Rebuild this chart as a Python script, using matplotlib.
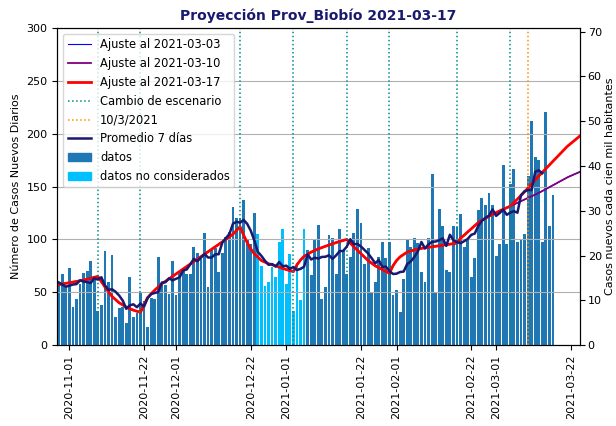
import numpy as np
import pandas as pd
import matplotlib
matplotlib.use('Agg')
import matplotlib.pyplot as plt
import matplotlib.dates as mdates
from matplotlib.patches import Patch
from matplotlib.lines import Line2D

# Casos nuevos diarios desde 2020-10-26 hasta 2021-03-17
inicio = '2020-10-26'
casos = [50, 58, 52, 60, 67, 55, 73, 36, 44, 58, 68, 70, 80, 65, 32, 38, 89, 60, 85, 27,
         35, 36, 21, 64, 27, 30, 50, 42, 17, 45, 44, 83, 57, 57, 48, 80, 47, 70, 70, 67,
         67, 93, 87, 81, 106, 55, 90, 92, 69, 87, 102, 107, 131, 120, 120, 137, 100, 96, 125, 105,
         75, 56, 60, 74, 64, 98, 110, 58, 86, 32, 78, 43, 110, 90, 66, 100, 114, 44, 55, 104,
         101, 67, 110, 90, 67, 83, 106, 129, 116, 77, 92, 50, 60, 83, 98, 82, 98, 47, 52, 31,
         63, 100, 93, 101, 97, 69, 60, 101, 162, 50, 129, 113, 71, 69, 113, 112, 124, 93, 100, 64,
         82, 128, 139, 133, 144, 133, 84, 96, 170, 96, 152, 167, 98, 99, 105, 160, 212, 178, 175, 98,
         221, 113, 142]
no_considerados = ('2020-12-24', '2021-01-06')

cambios_escenario = ['2020-11-09', '2020-11-21', '2020-12-19', '2021-01-03', '2021-01-18',
                     '2021-01-30', '2021-02-18', '2021-03-05']
fecha_marcada = '2021-03-10'
poblacion = 423700

# Ajuste por tramos (dias desde 2020-11-01), comun a los tres ajustes
dia0 = '2020-11-01'
ajuste_dias = [-3.4, 0, 4, 8, 10, 12, 14, 16, 18, 20, 21, 22, 24, 26, 29, 32, 35, 38, 41, 44, 46, 48,
               49, 50, 51, 52, 54, 56, 58, 60, 63, 64, 65, 66, 68, 70, 72, 75, 78, 80, 82, 84, 86,
               88, 90, 91, 92, 93, 95, 98, 103, 109, 110, 112, 115, 118, 121, 124]
ajuste_vals = [57, 59, 61.5, 65, 55, 46, 40, 36, 33, 31, 38, 45, 52, 58, 65, 72, 79, 86, 93, 100, 105, 112,
               104, 97, 91, 86.5, 80, 77, 75, 72.5, 69.5, 76, 80.5, 84, 88, 91, 93.5, 97, 100, 93, 86.5, 80, 75,
               71.5, 68, 75, 80, 83.5, 88, 91, 93.5, 96.5, 101, 107, 116, 122, 127, 131.5]

# Ultimo tramo de cada ajuste
final_0303_dias = [124, 132, 140.2, 143.6]
final_0303_vals = [131.5, 144, 159, 164]
final_0310_dias = [124, 132, 140.2, 143.6]
final_0310_vals = [131.5, 144, 159, 164]
final_0317_dias = [124, 128, 132, 136, 140, 143.6]
final_0317_vals = [131.5, 145, 160, 174, 188, 198]


def a_fechas(dias):
    return pd.Timestamp(dia0) + pd.to_timedelta(dias, unit='D')


fechas = pd.date_range(inicio, periods=len(casos), freq='D')
serie = pd.Series(casos, index=fechas, dtype=float)
promedio = serie.rolling(7, center=True).mean()
mask_nc = (fechas >= no_considerados[0]) & (fechas <= no_considerados[1])

fig, ax = plt.subplots(figsize=(6.16, 4.26), dpi=100)
fig.subplots_adjust(left=0.093, right=0.9416, top=0.934, bottom=0.19)

ax.bar(fechas[~mask_nc], serie[~mask_nc], width=0.8, color='#1f77b4')
ax.bar(fechas[mask_nc], serie[mask_nc], width=0.8, color='deepskyblue')

ax.plot(a_fechas(ajuste_dias + final_0303_dias), ajuste_vals + final_0303_vals, color='blue', lw=0.8)
ax.plot(a_fechas(ajuste_dias + final_0310_dias), ajuste_vals + final_0310_vals, color='purple', lw=1.3)
ax.plot(a_fechas(ajuste_dias + final_0317_dias), ajuste_vals + final_0317_vals, color='red', lw=2)

for f in cambios_escenario:
    ax.axvline(pd.Timestamp(f), color='darkcyan', ls=':', lw=1.1)
ax.axvline(pd.Timestamp(fecha_marcada), color='darkorange', ls=':', lw=1.1)

ax.plot(promedio.index, promedio.values, color='midnightblue', lw=1.8)

ax.set_xlim(a_fechas(-3.4), a_fechas(143.6))
ax.set_ylim(0, 300)
ax.xaxis.set_major_locator(mdates.DayLocator(bymonthday=[1, 22]))
ax.xaxis.set_major_formatter(mdates.DateFormatter('%Y-%m-%d'))
plt.setp(ax.get_xticklabels(), rotation=90)
ax.tick_params(labelsize=8)
ax.yaxis.grid(True, color='#b0b0b0')
ax.set_ylabel('Número de Casos Nuevos Diarios', fontsize=8)
ax.set_title('Proyección Prov_Biobío 2021-03-17', fontsize=10, fontweight='bold', color='midnightblue')

ax2 = ax.twinx()
ax2.set_ylim(0, 300 * 100000 / poblacion)
ax2.set_yticks(range(0, 71, 10))
ax2.tick_params(labelsize=8, pad=2)
ax2.set_ylabel('Casos nuevos cada cien mil habitantes', fontsize=8, labelpad=2)

handles = [Line2D([], [], color='blue', lw=0.8),
           Line2D([], [], color='purple', lw=1.3),
           Line2D([], [], color='red', lw=2),
           Line2D([], [], color='darkcyan', ls=':', lw=1.1),
           Line2D([], [], color='darkorange', ls=':', lw=1.1),
           Line2D([], [], color='midnightblue', lw=1.8),
           Patch(color='#1f77b4'),
           Patch(color='deepskyblue')]
labels = ['Ajuste al 2021-03-03', 'Ajuste al 2021-03-10', 'Ajuste al 2021-03-17', 'Cambio de escenario',
          '10/3/2021', 'Promedio 7 días', 'datos', 'datos no considerados']
ax2.legend(handles, labels, loc='upper left', fontsize=8.3)

fig.savefig('out.png', dpi=100)
